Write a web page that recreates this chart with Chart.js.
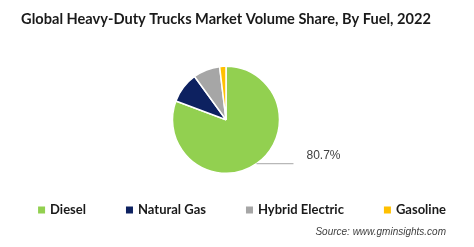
<!DOCTYPE html>
<html>
<head>
<meta charset="utf-8">
<script src="https://cdn.jsdelivr.net/npm/chart.js@4"></script>
<style>
  html, body { margin: 0; padding: 0; background: #fff; }
  #wrap { width: 474px; height: 247px; position: relative; }
</style>
</head>
<body>
<div id="wrap"><canvas id="fuelChart"></canvas></div>
<script>
// data
const fuels = ['Diesel', 'Natural Gas', 'Hybrid Electric', 'Gasoline'];
const shares = [80.7, 9.3, 8.1, 1.9];
const fuelColors = ['#92D050', '#0D2160', '#A6A6A6', '#FFC000'];
const labelledSlices = [0]; // only Diesel carries a value label

// draws the leader line + percentage for labelled slices
const leaderLabels = {
  id: 'leaderLabels',
  afterDatasetsDraw(chart) {
    const ctx = chart.ctx;
    const meta = chart.getDatasetMeta(0);
    labelledSlices.forEach(function(i) {
      const arc = meta.data[i];
      const mid = (arc.startAngle + arc.endAngle) / 2;
      const x0 = arc.x + Math.cos(mid) * arc.outerRadius;
      const y0 = arc.y + Math.sin(mid) * arc.outerRadius;
      const x1 = x0 + 37;
      ctx.save();
      ctx.strokeStyle = '#A6A6A6';
      ctx.lineWidth = 1;
      ctx.beginPath();
      ctx.moveTo(x0, y0);
      ctx.lineTo(x1, y0);
      ctx.stroke();
      ctx.fillStyle = '#404040';
      ctx.font = '12px "Liberation Sans", Arial, sans-serif';
      ctx.textBaseline = 'middle';
      ctx.fillText(shares[i].toFixed(1) + '%', x1 + 13, y0 - 8);
      ctx.restore();
    });
  }
};

// one-row legend with wide gaps (the built-in legend grows too tall with big padding)
const rowLegend = {
  id: 'rowLegend',
  afterDraw(chart) {
    const ctx = chart.ctx;
    const box = 7, gapText = 5, gapItem = 40, y = 210;
    ctx.save();
    ctx.font = 'bold 13px Lato, "Open Sans", sans-serif';
    const widths = fuels.map(function(t) { return box + gapText + ctx.measureText(t).width; });
    const total = widths.reduce(function(a, b) { return a + b; }, 0) + gapItem * (fuels.length - 1);
    let x = 242 - total / 2;
    ctx.textBaseline = 'middle';
    fuels.forEach(function(name, i) {
      ctx.fillStyle = fuelColors[i];
      ctx.fillRect(x, y - box / 2, box, box);
      ctx.fillStyle = '#1a1a1a';
      ctx.fillText(name, x + box + gapText, y);
      x += widths[i] + gapItem;
    });
    ctx.restore();
  }
};

new Chart(document.getElementById('fuelChart'), {
  type: 'pie',
  data: {
    labels: fuels,
    datasets: [{
      data: shares,
      backgroundColor: fuelColors,
      borderColor: '#ffffff',
      borderWidth: 1.5
    }]
  },
  options: {
    responsive: true,
    maintainAspectRatio: false,
    animation: false,
    layout: { padding: { top: 0, bottom: 0, left: 6, right: 28 } },
    plugins: {
      title: {
        display: true,
        text: 'Global Heavy-Duty Trucks Market Volume Share, By Fuel, 2022',
        color: '#1a1a1a',
        font: { family: 'Lato, "Open Sans", sans-serif', size: 14.6, weight: 'bold' },
        padding: { top: 11, bottom: 37 }
      },
      subtitle: {
        display: true,
        position: 'bottom',
        align: 'end',
        text: 'Source: www.gminsights.com',
        color: '#404040',
        font: { family: '"Liberation Sans", Arial, sans-serif', size: 10, style: 'italic' },
        padding: { top: 52, bottom: 9 }
      },
      legend: { display: false },
      tooltip: { enabled: false }
    }
  },
  plugins: [leaderLabels, rowLegend]
});
</script>
</body>
</html>
